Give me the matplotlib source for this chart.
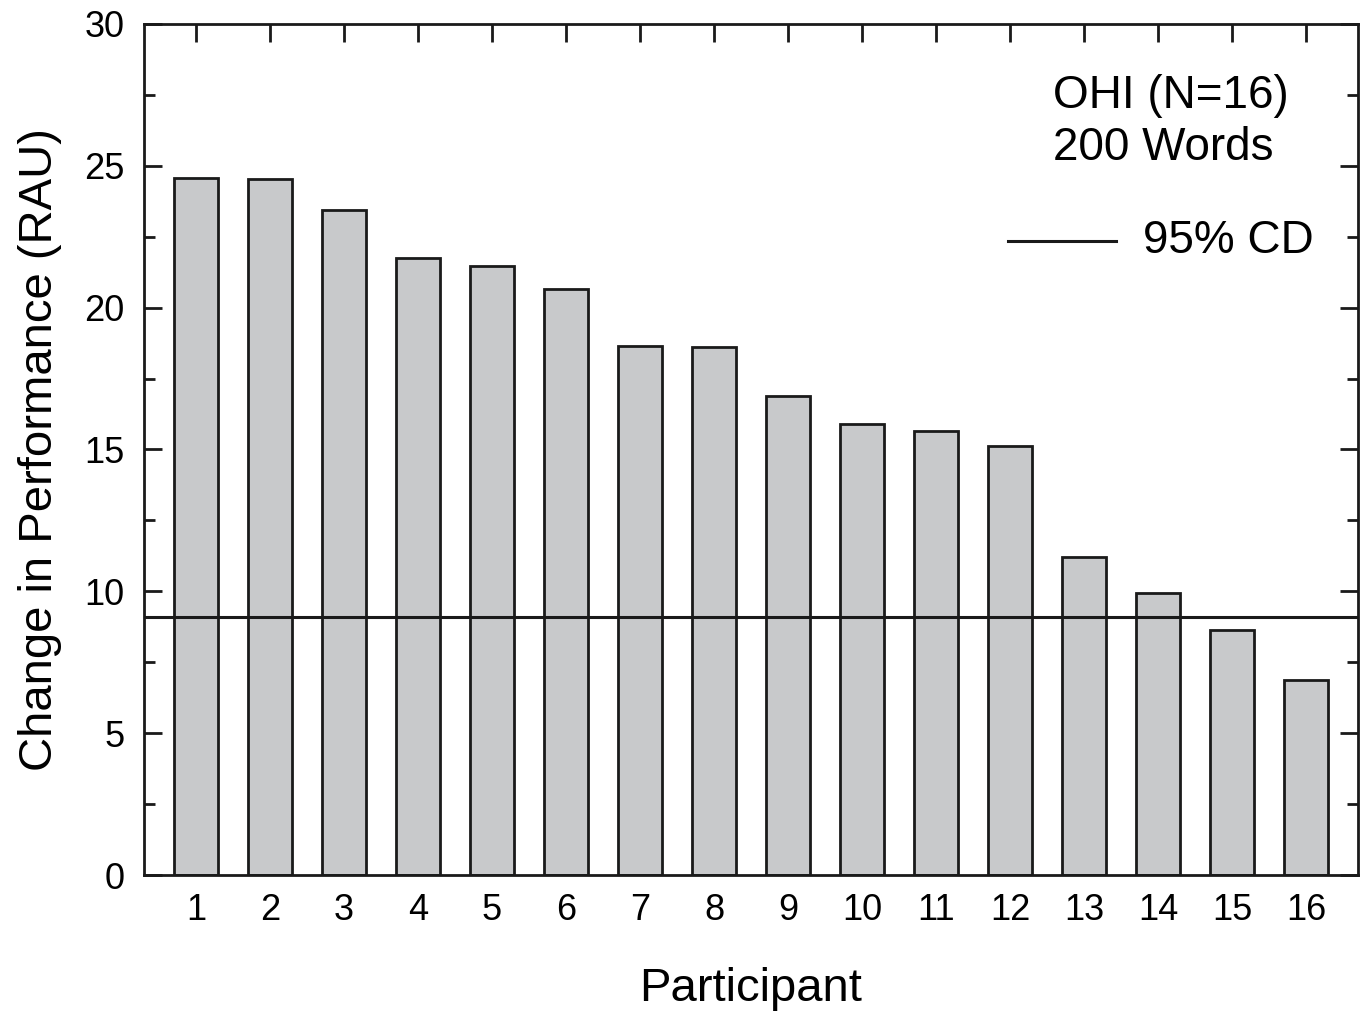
import matplotlib
matplotlib.use("Agg")
import matplotlib.pyplot as plt
from matplotlib.ticker import MultipleLocator

plt.rcParams['font.family'] = ['Liberation Sans', 'DejaVu Sans']

# Data
participants = list(range(1, 17))
change_rau = [24.57, 24.53, 23.44, 21.75, 21.47, 20.66, 18.65, 18.61,
              16.88, 15.90, 15.65, 15.12, 11.21, 9.94, 8.64, 6.87]
cd_95 = 9.09

fig = plt.figure(figsize=(13.65, 10.11), dpi=100)
ax = fig.add_axes([0.1055, 0.1345, 0.8894, 0.8418])

ax.bar(participants, change_rau, width=0.6, color='#c8c9cb',
       edgecolor='#1a1a1a', linewidth=2, zorder=2)
ax.axhline(cd_95, color='#1a1a1a', linewidth=2.2, zorder=3)

ax.set_xlim(0.3, 16.7)
ax.set_ylim(0, 30)
ax.set_xticks(participants)
ax.yaxis.set_major_locator(MultipleLocator(5))
ax.yaxis.set_minor_locator(MultipleLocator(2.5))

ax.tick_params(axis='both', which='major', direction='in', length=13, width=2,
               labelsize=26, color='#1a1a1a')
ax.tick_params(axis='y', which='minor', direction='in', length=8, width=2,
               color='#1a1a1a')
ax.tick_params(axis='x', top=True, bottom=False, pad=13)
ax.tick_params(axis='y', which='both', right=True, pad=14)
for s in ax.spines.values():
    s.set_linewidth(2)
    s.set_color('#1a1a1a')

ax.set_xlabel('Participant', fontsize=34, labelpad=28)
ax.set_ylabel('Change in Performance (RAU)', fontsize=34, labelpad=16)

# Annotation block in the upper right
ax.text(0.749, 0.941, 'OHI (N=16)\n200 Words', transform=ax.transAxes,
        fontsize=33, va='top', ha='left', linespacing=1.22)
ax.plot([0.712, 0.801], [0.745, 0.745], transform=ax.transAxes,
        color='#1a1a1a', linewidth=2.2)
ax.text(0.823, 0.745, '95% CD', transform=ax.transAxes,
        fontsize=33, va='center', ha='left')

fig.savefig('out.png', dpi=100)
